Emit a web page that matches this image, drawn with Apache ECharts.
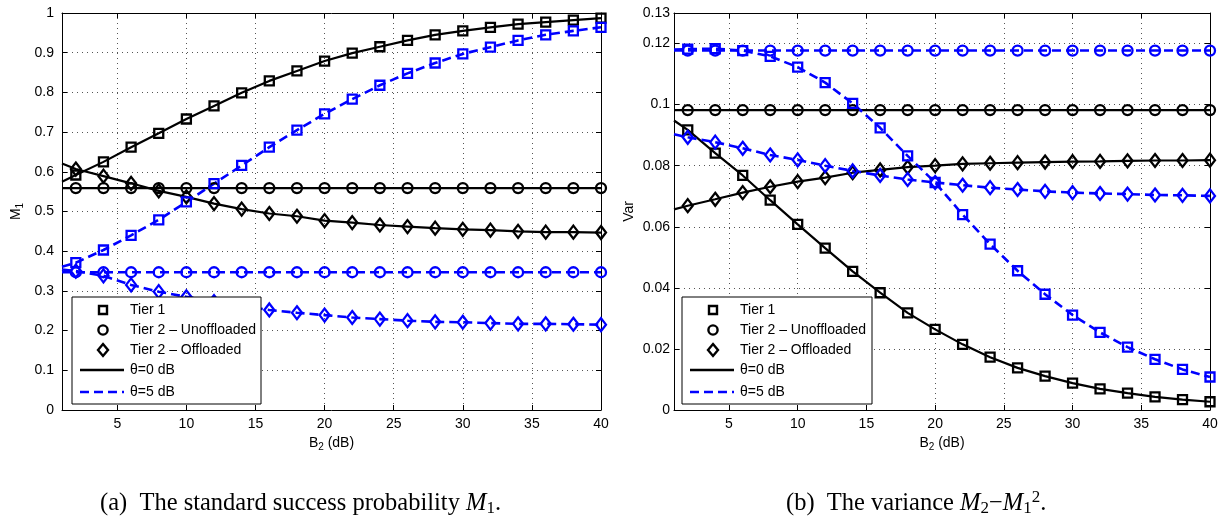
<!DOCTYPE html>
<html><head><meta charset="utf-8">
<script src="https://cdn.jsdelivr.net/npm/echarts@6/dist/echarts.min.js"></script>
<style>html,body{margin:0;padding:0;background:#fff}#c{width:1221px;height:519px}</style>
</head><body><div id="c"></div>
<script>
// x positions (B2 in dB); first entry is the start of the curve (no marker)
const bValues = [1,2,4,6,8,10,12,14,16,18,20,22,24,26,28,30,32,34,36,38,40];

// (a) standard success probability M1
const m1Tier1Theta0      = [0.575,0.592,0.625,0.662,0.697,0.733,0.766,0.799,0.829,0.854,0.879,0.899,0.915,0.931,0.945,0.955,0.964,0.972,0.977,0.982,0.987];
const m1Tier2UnoffTheta0 = [0.559,0.559,0.559,0.559,0.559,0.559,0.559,0.559,0.559,0.559,0.559,0.559,0.559,0.559,0.559,0.559,0.559,0.559,0.559,0.559,0.559];
const m1Tier2OffTheta0   = [0.621,0.607,0.589,0.571,0.552,0.537,0.520,0.506,0.495,0.488,0.477,0.472,0.466,0.462,0.458,0.455,0.453,0.450,0.448,0.448,0.447];
const m1Tier1Theta5      = [0.361,0.371,0.403,0.440,0.479,0.524,0.570,0.616,0.662,0.705,0.746,0.783,0.818,0.848,0.874,0.897,0.914,0.931,0.945,0.955,0.964];
const m1Tier2UnoffTheta5 = [0.347,0.347,0.347,0.347,0.347,0.347,0.347,0.347,0.347,0.347,0.347,0.347,0.347,0.347,0.347,0.347,0.347,0.347,0.347,0.347,0.347];
const m1Tier2OffTheta5   = [0.354,0.350,0.338,0.315,0.298,0.285,0.273,0.262,0.252,0.245,0.239,0.233,0.229,0.225,0.222,0.221,0.219,0.217,0.217,0.216,0.215];

// (b) variance M2 - M1^2
const varTier1Theta0      = [0.0948,0.0917,0.0841,0.0768,0.0687,0.0608,0.0530,0.0454,0.0384,0.0318,0.0264,0.0215,0.0173,0.0138,0.0111,0.0088,0.0069,0.0055,0.0043,0.0034,0.0027];
const varTier2UnoffTheta0 = [0.0982,0.0982,0.0982,0.0982,0.0982,0.0982,0.0982,0.0982,0.0982,0.0982,0.0982,0.0982,0.0982,0.0982,0.0982,0.0982,0.0982,0.0982,0.0982,0.0982,0.0982];
const varTier2OffTheta0   = [0.0657,0.0669,0.0690,0.0712,0.0731,0.0748,0.0761,0.0777,0.0786,0.0795,0.0800,0.0806,0.0808,0.0810,0.0812,0.0813,0.0814,0.0816,0.0817,0.0817,0.0818];
const varTier1Theta5      = [0.1180,0.1182,0.1183,0.1177,0.1158,0.1123,0.1072,0.1004,0.0924,0.0832,0.0745,0.0640,0.0543,0.0456,0.0379,0.0311,0.0254,0.0206,0.0166,0.0133,0.0108];
const varTier2UnoffTheta5 = [0.1177,0.1177,0.1177,0.1177,0.1177,0.1177,0.1177,0.1177,0.1177,0.1177,0.1177,0.1177,0.1177,0.1177,0.1177,0.1177,0.1177,0.1177,0.1177,0.1177,0.1177];
const varTier2OffTheta5   = [0.0903,0.0893,0.0877,0.0857,0.0835,0.0819,0.0800,0.0783,0.0768,0.0755,0.0745,0.0736,0.0728,0.0722,0.0716,0.0712,0.0709,0.0707,0.0704,0.0703,0.0701];

const legendLabels = ['Tier 1', 'Tier 2 \u2013 Unoffloaded', 'Tier 2 \u2013 Offloaded', '\u03b8=0 dB', '\u03b8=5 dB'];
const yTicksM1 = [0, 0.1];    // y-axis min / interval, panel (a)
const yTicksVar = [0, 0.02];  // y-axis min / interval, panel (b)

const BLACK = '#000000', BLUE = '#0000ff';
const FONT = "'Liberation Sans', Arial, Helvetica, sans-serif";
const SERIF = "'Liberation Serif', 'Times New Roman', serif";

const SYM = {
  square: {symbol: 'rect', size: 9},
  circle: {symbol: 'circle', size: 10},
  diamond: {symbol: 'diamond', size: [10, 13]}
};

function mk(name, panel, vals, shape, color, dashed) {
  return {
    type: 'line', name: name,
    xAxisIndex: panel * 2, yAxisIndex: panel * 2,
    data: bValues.map((b, i) => i === 0 ? {value: [b, vals[i]], symbol: 'none'} : [b, vals[i]]),
    symbol: SYM[shape].symbol, symbolSize: SYM[shape].size,
    showAllSymbol: true,
    lineStyle: {color: color, width: dashed ? 2.6 : 2.2, type: dashed ? [9, 5] : 'solid'},
    itemStyle: {color: 'rgba(255,255,255,0)', borderColor: color, borderWidth: 2.3},
    emphasis: {disabled: true},
    silent: true
  };
}

function xAxes(grid) {
  const common = {gridIndex: grid, type: 'value', min: 1, max: 40, splitNumber: 8, minInterval: 5, maxInterval: 5,
    axisLine: {show: true, onZero: false, lineStyle: {color: BLACK, width: 1}},
    axisTick: {show: true, inside: true, length: 5, lineStyle: {color: BLACK}}};
  return [
    Object.assign({}, common, {position: 'bottom',
      axisLabel: {show: true, showMinLabel: false, color: BLACK, fontSize: 14, fontFamily: FONT, margin: 7},
      splitLine: {show: true, lineStyle: {color: '#555', width: 1, type: [1, 4]}},
      name: 'B{s|2} (dB)', nameLocation: 'middle', nameGap: 23,
      nameTextStyle: {color: BLACK, fontSize: 14, fontFamily: FONT, rich: {s: {fontSize: 10, fontFamily: FONT, color: BLACK, padding: [8, 0, 0, 0]}}}}),
    Object.assign({}, common, {position: 'top', axisLabel: {show: false}, splitLine: {show: false}})
  ];
}

function yAxes(grid, mn, mx, iv, name, nameGap, margin) {
  const common = {gridIndex: grid, type: 'value', min: mn, max: mx, interval: iv,
    axisLine: {show: true, onZero: false, lineStyle: {color: BLACK, width: 1}},
    axisTick: {show: true, inside: true, length: 5, lineStyle: {color: BLACK}}};
  return [
    Object.assign({}, common, {position: 'left',
      axisLabel: {show: true, color: BLACK, fontSize: 14, fontFamily: FONT, margin: margin},
      splitLine: {show: true, lineStyle: {color: '#555', width: 1, type: [1, 4]}},
      name: name, nameLocation: 'middle', nameGap: nameGap,
      nameTextStyle: {color: BLACK, fontSize: 14, fontFamily: FONT, rich: {s: {fontSize: 10, fontFamily: FONT, color: BLACK, padding: [8, 0, 0, 0]}}}}),
    Object.assign({}, common, {position: 'right', axisLabel: {show: false}, splitLine: {show: false}})
  ];
}

function legendGraphic(x0, y0, w) {
  const els = [];
  const h = 107;
  els.push({type: 'rect', shape: {x: x0, y: y0, width: w, height: h}, style: {fill: '#fff', stroke: BLACK, lineWidth: 1}, z: 100});
  const rows = [13, 33, 53, 73, 95];
  const cx = x0 + 31;
  const st = {fill: 'none', stroke: BLACK, lineWidth: 2.4};
  els.push({type: 'rect', shape: {x: cx - 4, y: y0 + rows[0] - 4, width: 8, height: 8}, style: st, z: 101});
  els.push({type: 'circle', shape: {cx: cx, cy: y0 + rows[1], r: 4.6}, style: st, z: 101});
  const dy = y0 + rows[2];
  els.push({type: 'polygon', shape: {points: [[cx, dy - 6], [cx + 5, dy], [cx, dy + 6], [cx - 5, dy]]}, style: st, z: 101});
  els.push({type: 'line', shape: {x1: x0 + 8, y1: y0 + rows[3], x2: x0 + 52, y2: y0 + rows[3]}, style: {stroke: BLACK, lineWidth: 2.4}, z: 101});
  els.push({type: 'line', shape: {x1: x0 + 8, y1: y0 + rows[4], x2: x0 + 52, y2: y0 + rows[4]}, style: {stroke: BLUE, lineWidth: 2.6, lineDash: [9, 5]}, z: 101});
  legendLabels.forEach((t, i) => {
    els.push({type: 'text', x: x0 + 58, y: y0 + rows[i], style: {text: t, fill: BLACK, fontSize: 14, fontFamily: FONT, align: 'left', verticalAlign: 'middle'}, z: 102});
  });
  return els;
}

const captionRich = {
  m: {fontSize: 24.5, fontFamily: SERIF, fontStyle: 'italic', color: BLACK},
  s: {fontSize: 17, fontFamily: SERIF, color: BLACK, padding: [10, 0, 0, 0]},
  p: {fontSize: 17, fontFamily: SERIF, color: BLACK, padding: [0, 0, 12, 0]},
  o: {fontSize: 24.5, fontFamily: SERIF, color: BLACK}
};

const chart = echarts.init(document.getElementById('c'), null, {renderer: 'canvas'});
chart.setOption({
  animation: false,
  backgroundColor: '#fff',
  grid: [
    {left: 62, top: 13, width: 539, height: 397, show: false},
    {left: 674, top: 13, width: 536, height: 397, show: false}
  ],
  xAxis: [].concat(xAxes(0), xAxes(1)),
  yAxis: [].concat(
    yAxes(0, yTicksM1[0], 1, yTicksM1[1], 'M{s|1}', 37, 8),
    yAxes(1, yTicksVar[0], 0.13, yTicksVar[1], 'Var', 38, 4)
  ),
  series: [
    mk('Tier 1, \u03b8=0 dB', 0, m1Tier1Theta0, 'square', BLACK, false),
    mk('Tier 2 \u2013 Unoffloaded, \u03b8=0 dB', 0, m1Tier2UnoffTheta0, 'circle', BLACK, false),
    mk('Tier 2 \u2013 Offloaded, \u03b8=0 dB', 0, m1Tier2OffTheta0, 'diamond', BLACK, false),
    mk('Tier 1, \u03b8=5 dB', 0, m1Tier1Theta5, 'square', BLUE, true),
    mk('Tier 2 \u2013 Unoffloaded, \u03b8=5 dB', 0, m1Tier2UnoffTheta5, 'circle', BLUE, true),
    mk('Tier 2 \u2013 Offloaded, \u03b8=5 dB', 0, m1Tier2OffTheta5, 'diamond', BLUE, true),
    mk('Tier 1, \u03b8=0 dB', 1, varTier1Theta0, 'square', BLACK, false),
    mk('Tier 2 \u2013 Unoffloaded, \u03b8=0 dB', 1, varTier2UnoffTheta0, 'circle', BLACK, false),
    mk('Tier 2 \u2013 Offloaded, \u03b8=0 dB', 1, varTier2OffTheta0, 'diamond', BLACK, false),
    mk('Tier 1, \u03b8=5 dB', 1, varTier1Theta5, 'square', BLUE, true),
    mk('Tier 2 \u2013 Unoffloaded, \u03b8=5 dB', 1, varTier2UnoffTheta5, 'circle', BLUE, true),
    mk('Tier 2 \u2013 Offloaded, \u03b8=5 dB', 1, varTier2OffTheta5, 'diamond', BLUE, true)
  ],
  graphic: [].concat(
    legendGraphic(72, 297, 189),
    legendGraphic(682, 297, 190),
    [
      {type: 'text', x: 100, y: 504, z: 102, style: {text: '(a)  The standard success probability {m|M}{s|1}.', fontSize: 24.5, fontFamily: SERIF, fill: BLACK, align: 'left', verticalAlign: 'middle', rich: captionRich}},
      {type: 'text', x: 786, y: 504, z: 102, style: {text: '(b)  The variance {m|M}{s|2}{o|\u2212}{m|M}{s|1}{p|2}.', fontSize: 24.5, fontFamily: SERIF, fill: BLACK, align: 'left', verticalAlign: 'middle', rich: captionRich}}
    ]
  )
});
</script>
</body></html>
